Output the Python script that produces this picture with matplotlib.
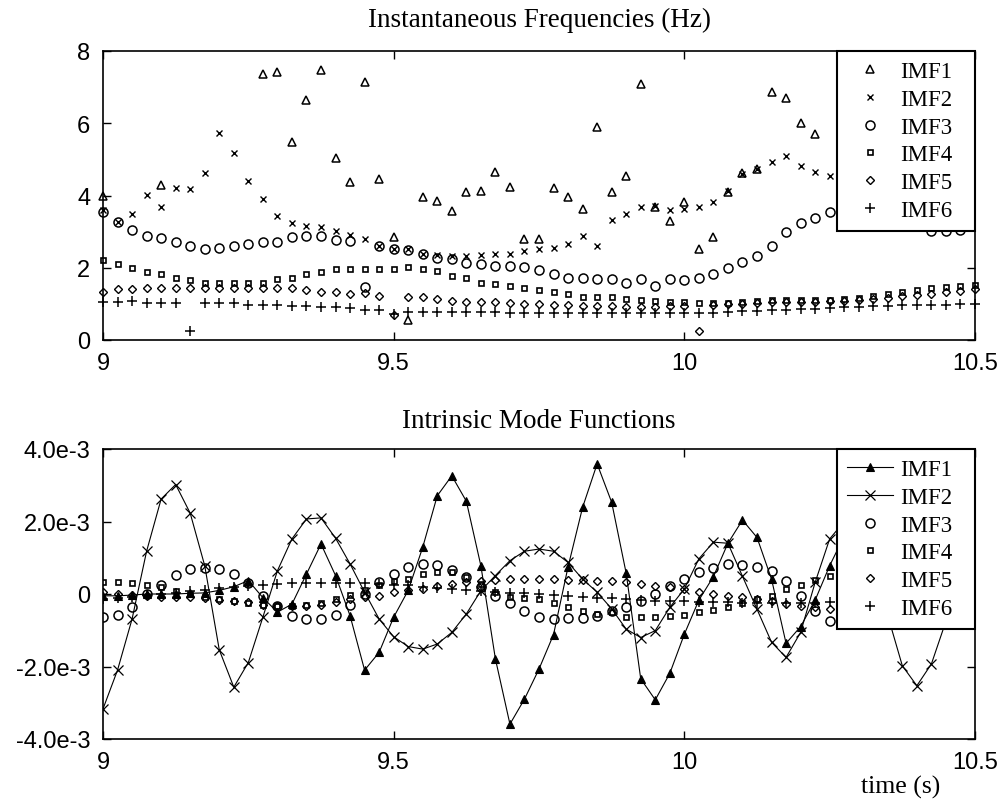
import numpy as np
import matplotlib
matplotlib.use("Agg")
import matplotlib.pyplot as plt
from matplotlib.ticker import FixedLocator, FixedFormatter

nan = float("nan")

# sample times (s), 40 Hz sampling between 9 and 10.5 s
time_s = [9.000, 9.025, 9.050, 9.075, 9.100, 9.125, 9.150, 9.175, 9.200, 9.225,
          9.250, 9.275, 9.300, 9.325, 9.350, 9.375, 9.400, 9.425, 9.450, 9.475,
          9.500, 9.525, 9.550, 9.575, 9.600, 9.625, 9.650, 9.675, 9.700, 9.725,
          9.750, 9.775, 9.800, 9.825, 9.850, 9.875, 9.900, 9.925, 9.950, 9.975,
          10.000, 10.025, 10.050, 10.075, 10.100, 10.125, 10.150, 10.175, 10.200, 10.225,
          10.250, 10.275, 10.300, 10.325, 10.350, 10.375, 10.400, 10.425, 10.450, 10.475,
          10.500]

labels = ["IMF1", "IMF2", "IMF3", "IMF4", "IMF5", "IMF6"]

# ---- Instantaneous frequencies (Hz) ----
freq_imf1 = [4.0, nan, nan, nan, 4.30, nan, nan, nan, nan, nan,
             nan, 7.36, 7.43, 5.47, 6.64, 7.48, 5.03, 4.36, 7.15, 4.47,
             2.84, 0.55, 3.96, 3.85, 3.58, 4.09, 4.13, 4.64, 4.24, 2.79,
             2.79, 4.20, 3.96, 3.64, 5.90, 4.09, 4.53, 7.09, 3.67, 3.30,
             3.81, 2.53, 2.84, 4.09, 4.62, 4.73, 6.86, 6.69, 6.02, 5.70,
             nan, nan, nan, nan, nan, nan, nan, nan, nan, nan, nan]
freq_imf2 = [3.60, 3.27, 3.50, 4.01, 3.67, 4.22, 4.18, 4.62, 5.72, 5.17,
             4.39, 3.90, 3.44, 3.24, 3.16, 3.13, 3.02, 2.90, 2.79, 2.60,
             2.53, 2.52, 2.38, 2.36, 2.32, 2.33, 2.35, 2.38, 2.38, 2.45,
             2.52, 2.55, 2.65, 2.88, 2.61, 3.33, 3.50, 3.67, 3.71, 3.60,
             3.62, 3.67, 3.83, 4.13, 4.60, 4.73, 4.93, 5.10, 4.82, 4.66,
             4.55, nan, nan, nan, nan, nan, nan, nan, nan, nan, nan]
freq_imf3 = [3.55, 3.27, 3.05, 2.88, 2.82, 2.72, 2.61, 2.52, 2.56, 2.61,
             2.65, 2.72, 2.72, 2.84, 2.88, 2.88, 2.77, 2.75, 1.46, 2.60,
             2.53, 2.50, 2.38, 2.26, 2.24, 2.12, 2.10, 2.05, 2.05, 2.01,
             1.94, 1.82, 1.73, 1.73, 1.68, 1.68, 1.59, 1.68, 1.50, 1.68,
             1.66, 1.73, 1.82, 1.98, 2.15, 2.33, 2.59, 2.99, 3.24, 3.37,
             3.55, nan, nan, nan, nan, nan, nan, 3.02, 3.02, 3.05, nan]
freq_imf4 = [2.22, 2.10, 1.99, 1.87, 1.82, 1.71, 1.66, 1.59, 1.59, 1.59,
             1.59, 1.59, 1.68, 1.73, 1.82, 1.89, 1.96, 1.96, 1.96, 1.96,
             1.96, 2.01, 1.96, 1.90, 1.78, 1.73, 1.59, 1.55, 1.50, 1.45,
             1.38, 1.32, 1.27, 1.20, 1.18, 1.18, 1.13, 1.12, 1.08, 1.04,
             1.04, 1.02, 1.02, 1.02, 1.04, 1.08, 1.10, 1.10, 1.10, 1.12,
             1.12, 1.14, 1.16, 1.22, 1.28, 1.34, 1.39, 1.43, 1.46, 1.50, 1.52]
freq_imf5 = [1.32, 1.41, 1.41, 1.45, 1.45, 1.45, 1.43, 1.43, 1.43, 1.43,
             1.43, 1.43, 1.43, 1.43, 1.39, 1.34, 1.34, 1.27, 1.30, 1.22,
             0.70, 1.18, 1.18, 1.13, 1.08, 1.06, 1.04, 1.04, 1.02, 1.00,
             0.99, 0.98, 0.96, 0.95, 0.94, 0.93, 0.92, 0.92, 0.92, 0.93,
             0.95, 0.25, 0.98, 1.00, 1.00, 1.02, 1.04, 1.04, 1.05, 1.06,
             1.07, 1.08, 1.10, 1.13, 1.17, 1.21, 1.25, 1.28, 1.32, 1.36, 1.40]
freq_imf6 = [1.04, 1.04, 1.08, 1.02, 1.02, 1.02, 0.25, 1.02, 1.02, 1.02,
             0.97, 0.97, 0.97, 0.94, 0.94, 0.90, 0.90, 0.88, 0.83, 0.83,
             0.71, 0.78, 0.78, 0.78, 0.78, 0.78, 0.77, 0.77, 0.76, 0.76,
             0.76, 0.76, 0.76, 0.76, 0.76, 0.76, 0.76, 0.76, 0.76, 0.76,
             0.76, 0.74, 0.76, 0.78, 0.79, 0.80, 0.82, 0.83, 0.85, 0.87,
             0.88, 0.90, 0.92, 0.94, 0.94, 0.96, 0.97, 0.98, 0.98, 0.99, 0.99]

# ---- Intrinsic mode functions (units of 1e-3) ----
imf1 = [-0.05, -0.05, -0.03, 0.00, 0.00, 0.00, 0.02, 0.03, 0.10, 0.20,
        0.37, -0.10, -0.50, -0.28, 0.55, 1.38, 0.51, -0.60, -2.10, -1.61,
        -0.64, 0.10, 1.29, 2.71, 3.26, 2.56, 0.78, -1.79, -3.59, -2.90,
        -2.07, -1.12, 0.75, 2.39, 3.59, 2.53, 0.57, -2.34, -2.92, -2.19,
        -1.11, -0.17, 0.48, 1.40, 2.04, 1.56, 0.41, -1.36, -0.90, -0.17,
        0.78, 1.60, 1.20, 0.20, -0.40, -0.50, 0.10, 1.00, 1.50, 0.80, -0.10]
imf2 = [-3.17, -2.10, -0.69, 1.18, 2.62, 3.02, 2.23, 0.78, -1.54, -2.57,
        -1.89, -0.64, 0.64, 1.52, 2.07, 2.10, 1.54, 0.83, 0.05, -0.69,
        -1.18, -1.45, -1.52, -1.38, -1.06, -0.55, 0.09, 0.51, 0.92, 1.18,
        1.24, 1.18, 0.87, 0.41, 0.05, -0.41, -0.97, -1.20, -1.01, -0.37,
        0.14, 0.97, 1.43, 1.40, 0.49, -0.42, -1.33, -1.75, -1.06, 0.32,
        1.52, 2.00, 1.80, 0.70, -0.60, -1.98, -2.53, -1.93, -0.75, 0.50, 1.50]
imf3 = [-0.63, -0.57, -0.35, 0.00, 0.25, 0.53, 0.69, 0.72, 0.69, 0.55,
        0.29, -0.05, -0.32, -0.60, -0.69, -0.69, -0.57, -0.29, 0.00, 0.32,
        0.55, 0.75, 0.83, 0.81, 0.66, 0.46, 0.20, -0.05, -0.26, -0.46,
        -0.63, -0.69, -0.66, -0.66, -0.60, -0.46, -0.35, -0.20, 0.00, 0.23,
        0.41, 0.60, 0.72, 0.83, 0.81, 0.74, 0.63, 0.37, -0.05, -0.46,
        -0.74, -0.70, -0.65, -0.50, -0.25, 0.05, 0.35, 0.55, 0.65, 0.60, 0.45]
imf4 = [0.32, 0.32, 0.30, 0.25, 0.18, 0.08, 0.00, -0.08, -0.15, -0.20,
        -0.25, -0.30, -0.32, -0.32, -0.30, -0.25, -0.15, -0.02, 0.10, 0.25,
        0.37, 0.41, 0.55, 0.60, 0.60, 0.48, 0.28, 0.05, -0.08, -0.12,
        -0.14, -0.26, -0.37, -0.46, -0.55, -0.50, -0.63, -0.63, -0.63, -0.60,
        -0.57, -0.51, -0.44, -0.35, -0.25, -0.15, -0.05, 0.14, 0.26, 0.40,
        0.51, 0.60, 0.65, 0.62, 0.55, 0.40, 0.20, 0.00, -0.20, -0.40, -0.50]
imf5 = [0.05, 0.00, -0.03, -0.05, -0.07, -0.08, -0.08, -0.12, -0.17, -0.20,
        -0.22, -0.30, -0.32, -0.32, -0.32, -0.29, -0.22, -0.15, -0.08, -0.05,
        0.05, 0.10, 0.15, 0.22, 0.28, 0.33, 0.37, 0.40, 0.41, 0.41,
        0.41, 0.41, 0.40, 0.39, 0.37, 0.35, 0.32, 0.28, 0.23, 0.20,
        0.15, 0.05, 0.00, -0.05, -0.09, -0.14, -0.20, -0.28, -0.32, -0.37,
        -0.41, -0.44, -0.45, -0.44, -0.40, -0.33, -0.25, -0.15, -0.05, 0.05, 0.15]
imf6 = [-0.15, -0.12, -0.08, -0.04, 0.00, 0.04, 0.08, 0.12, 0.16, 0.20,
        0.23, 0.26, 0.28, 0.29, 0.30, 0.31, 0.31, 0.30, 0.29, 0.28,
        0.26, 0.24, 0.20, 0.17, 0.14, 0.11, 0.08, 0.06, 0.04, 0.02,
        -0.01, -0.04, -0.06, -0.08, -0.10, -0.12, -0.14, -0.16, -0.18, -0.19,
        -0.20, -0.21, -0.22, -0.23, -0.24, -0.24, -0.25, -0.25, -0.25, -0.24,
        -0.23, -0.21, -0.19, -0.16, -0.13, -0.10, -0.06, -0.02, 0.02, 0.06, 0.10]

x_ticks = [9, 9.5, 10, 10.5]
x_tick_labels = ["9", "9.5", "10", "10.5"]
f_ticks = [0, 2, 4, 6, 8]
f_tick_labels = ["0", "2", "4", "6", "8"]
imf_ticks = [-4e-3, -2e-3, 0, 2e-3, 4e-3]
imf_tick_labels = ["-4.0e-3", "-2.0e-3", "0", "2.0e-3", "4.0e-3"]

SERIF = "Liberation Serif"
SANS = "Liberation Sans"
TICK_FS = 17
LEG_FS = 16.5
TITLE_FS = 19.5

W, H = 1007, 804
fig = plt.figure(figsize=(W / 100, H / 100), dpi=100)
fig.patch.set_facecolor("white")

def px_axes(x0, y0, x1, y1):
    return fig.add_axes([x0 / W, 1 - y1 / H, (x1 - x0) / W, (y1 - y0) / H])

ax1 = px_axes(103, 52, 975, 341)
ax2 = px_axes(103, 450, 975, 740)

t = np.array(time_s)
k = "k"
marker_styles = [
    dict(marker="^", ms=5.5, mfc="none", mec=k, mew=1.1),
    dict(marker="x", ms=3.8, mec=k, mew=1.0),
    dict(marker="o", ms=6.5, mfc="none", mec=k, mew=1.1),
    dict(marker="s", ms=3.6, mfc="none", mec=k, mew=1.2),
    dict(marker="D", ms=4.2, mfc="none", mec=k, mew=1.0),
    dict(marker="+", ms=7.5, mec=k, mew=1.1),
]

freqs = [freq_imf1, freq_imf2, freq_imf3, freq_imf4, freq_imf5, freq_imf6]
for vals, st, lab in zip(freqs, marker_styles, labels):
    ax1.plot(t, vals, ls="none", color=k, label=lab, clip_on=False, **st)

imfs = [imf1, imf2, imf3, imf4, imf5, imf6]
bottom_styles = [
    dict(marker="^", ms=5.5, mfc=k, mec=k, mew=0.8, ls="-", lw=0.8),
    dict(marker="x", ms=7, mec=k, mew=0.9, ls="-", lw=0.8),
] + [dict(st, ls="none") for st in marker_styles[2:]]
for vals, st, lab in zip(imfs, bottom_styles, labels):
    ax2.plot(t, np.array(vals) * 1e-3, color=k, label=lab, **st)

for ax in (ax1, ax2):
    ax.set_xlim(9, 10.5)
    ax.xaxis.set_major_locator(FixedLocator(x_ticks))
    ax.xaxis.set_major_formatter(FixedFormatter(x_tick_labels))
    ax.tick_params(direction="in", length=6, width=1.0, top=True, right=True,
                   labelsize=TICK_FS, pad=9)
    for sp in ax.spines.values():
        sp.set_linewidth(1.2)
        sp.set_color("k")

ax1.set_ylim(0, 8)
ax1.yaxis.set_major_locator(FixedLocator(f_ticks))
ax1.yaxis.set_major_formatter(FixedFormatter(f_tick_labels))
ax2.set_ylim(-4e-3, 4e-3)
ax2.yaxis.set_major_locator(FixedLocator(imf_ticks))
ax2.yaxis.set_major_formatter(FixedFormatter(imf_tick_labels))
for ax in (ax1, ax2):
    for lab in ax.get_xticklabels() + ax.get_yticklabels():
        lab.set_fontfamily(SANS)
        lab.set_fontsize(TICK_FS)

ax1.set_title("Instantaneous Frequencies (Hz)", fontfamily=SERIF,
              fontsize=TITLE_FS, pad=18)
ax2.set_title("Intrinsic Mode Functions", fontfamily=SERIF,
              fontsize=TITLE_FS, pad=16)
ax2.set_xlabel("time (s)", fontfamily=SERIF, fontsize=TITLE_FS - 1)
ax2.xaxis.set_label_coords((901 - 103) / 872, -(776 - 740) / 290)

leg_box_x0 = (837 - 103) / 872
leg_kw = dict(fancybox=False, framealpha=1, edgecolor="k",
              prop={"family": SERIF, "size": LEG_FS},
              borderpad=0.45, labelspacing=0.29, handletextpad=0.3,
              borderaxespad=0.0, mode="expand")
leg1 = ax1.legend(loc="upper left",
                  bbox_to_anchor=(leg_box_x0, 1 - (230 - 52) / 289, 1 - leg_box_x0, (230 - 52) / 289),
                  handlelength=2.0, **leg_kw)
leg2 = ax2.legend(loc="upper left",
                  bbox_to_anchor=(leg_box_x0, 1 - (628 - 450) / 290, 1 - leg_box_x0, (628 - 450) / 290),
                  handlelength=2.0, **leg_kw)
for leg in (leg1, leg2):
    leg.get_frame().set_linewidth(1.5)
    leg.set_zorder(10)

fig.savefig("out.png", dpi=100)
